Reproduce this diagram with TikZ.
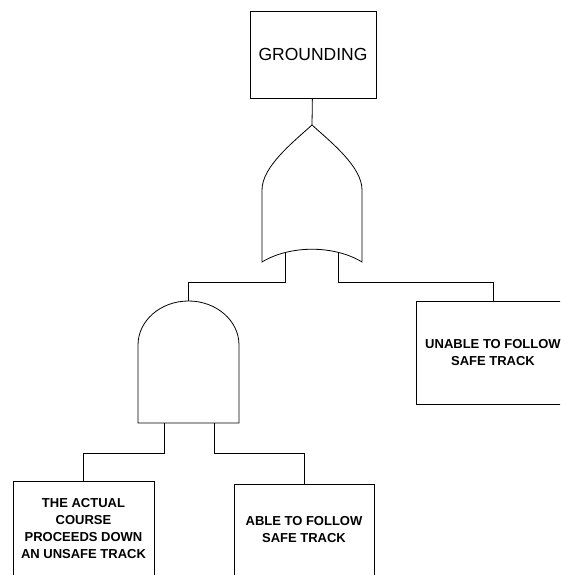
\documentclass[tikz,border=0pt]{standalone}
\usepackage{fontspec}
\setmainfont{Liberation Sans}
\usetikzlibrary{calc}
\usetikzlibrary{positioning}
\tikzset{
	event box/.style={draw, align=center, inner sep=2pt, font=\fontsize{13}{17}\selectfont\bfseries},
	top box/.style={event box, font=\fontsize{17.5}{20}\selectfont\mdseries},
}

\begin{document}
\begin{tikzpicture}[x=1pt,y=1pt,line width=.8pt]
	\clip (0,0) rectangle (560,575);
	\coordinate (orbus) at (0,293);
	\coordinate (andbus) at (0,122);
	\node[top box, minimum width=126pt, minimum height=87pt] (grounding) at (313,520.5) {GROUNDING};
	% or gate
	\draw (312,450) coordinate (orout) .. controls (292,432) and (262,408) .. (262,385) -- (262,313)
		.. controls (290,330) and (334,330) .. (362,313) coordinate[pos=.25] (orin1) coordinate[pos=.75] (orin2)
		-- (362,385) .. controls (362,408) and (332,432) .. (312,450);
	% and gate
	\draw (138,152) coordinate (andl) -- (138,230) arc[start angle=180, end angle=0, x radius=50.5, y radius=44] -- (239,152) -- cycle;
	\coordinate (andout) at (188.5,274);
	\coordinate (andin1) at (164,152);
	\coordinate (andin2) at (214,152);
	\node[event box, minimum width=141pt, minimum height=96pt] (course) at (83.5,46) {THE ACTUAL\\COURSE\\PROCEEDS DOWN\\AN UNSAFE TRACK};
	\node[event box, minimum width=140pt, minimum height=92pt] (able) at (304,45) {ABLE TO FOLLOW\\SAFE TRACK};
	\node[event box, minimum width=154pt, minimum height=103pt] (unable) at (493,222.5) {UNABLE TO FOLLOW\\SAFE TRACK};
	\draw (grounding) -- (orout);
	\draw (orin1) -- (orin1 |- orbus) -| (andout);
	\draw (orin2) -- (orin2 |- orbus) -| (unable);
	\draw (andin1) -- (andin1 |- andbus) -| (course);
	\draw (andin2) -- (andin2 |- andbus) -| (able);
\end{tikzpicture}
\end{document}
